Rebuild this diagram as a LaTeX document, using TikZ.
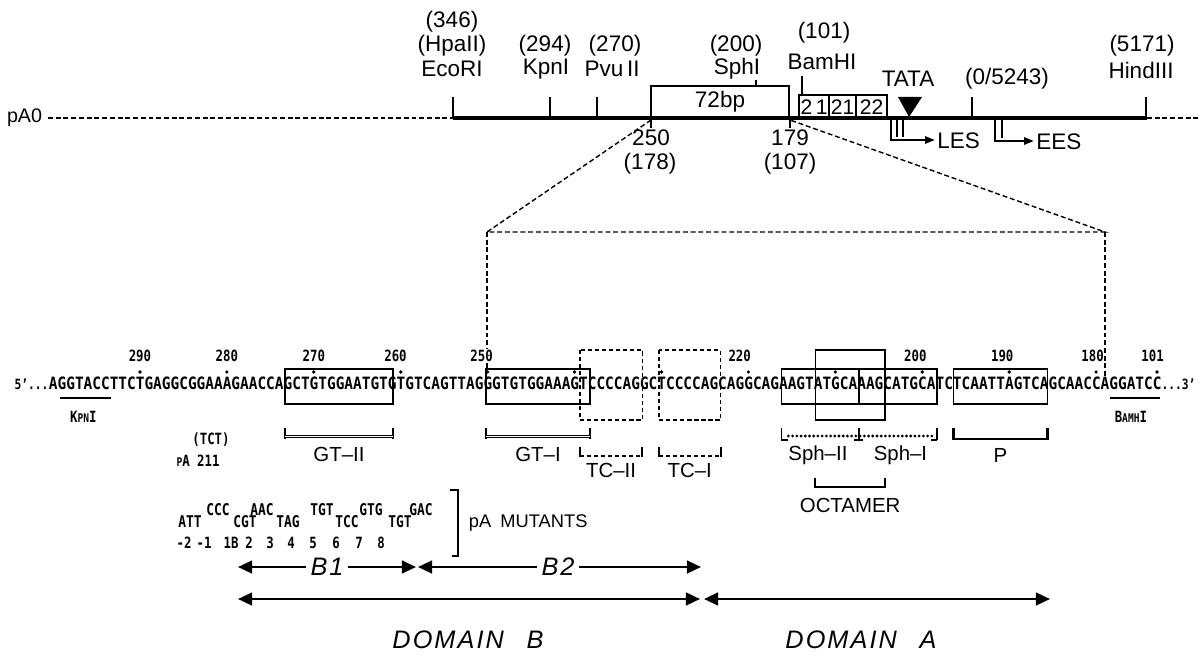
\documentclass[tikz,border=0pt]{standalone}
\usepackage{fontspec}
\setmainfont{Liberation Sans}
\newfontfamily\seqfont[FakeStretch=0.85]{DejaVu Sans Mono}
\newfontfamily\numfont[FakeStretch=0.8]{DejaVu Sans Mono}
\usetikzlibrary{arrows.meta,positioning}
\tikzset{
  every picture/.style={x=0.025cm, y=-0.025cm, font=\fontsize{16}{18}\selectfont},
  map label/.style={inner sep=0pt},
  map line/.style={line width=2.2pt},
  map tick/.style={line width=2pt},
  map box/.style={line width=1.5pt},
  map dash/.style={line width=1pt, dash pattern=on 3.5pt off 2pt},
  start arrow/.style={line width=1.6pt, -{Triangle[length=7pt,width=5pt]}},
  seq text/.style={font=\seqfont\bfseries\fontsize{12.08}{14}\selectfont, inner sep=0pt},
  seq end/.style={font=\numfont\bfseries\fontsize{10}{12}\selectfont, inner sep=0pt},
  seq num/.style={font=\numfont\bfseries\fontsize{11}{13}\selectfont, inner sep=1pt},
  site box/.style={line width=1.1pt},
  site dash/.style={line width=1.1pt, dash pattern=on 3pt off 2pt},
  brk/.style={line width=1.3pt},
  brk double/.style={double, line width=0.8pt, double distance=1.2pt},
  brk dots/.style={line width=2.2pt, line cap=round, dash pattern=on 0pt off 3pt},
  brk dash/.style={line width=1.6pt, dash pattern=on 3pt off 2pt},
  elem label/.style={font=\fontsize{14.5}{16}\selectfont},
  mut text/.style={font=\numfont\bfseries\fontsize{11.5}{12}\selectfont, inner sep=0pt},
  dom arrow/.style={line width=1.8pt,
    {Triangle[length=10pt,width=9pt]}-{Triangle[length=10pt,width=9pt]}},
  dom label/.style={font=\itshape\fontsize{18}{20}\selectfont\addfontfeature{LetterSpace=8}}
}
\begin{document}
\begin{tikzpicture}
  \useasboundingbox (0,0) rectangle (1200,668);

  % restriction map of pA0
  \node[anchor=east, font=\fontsize{14}{16}\selectfont] (pA0) at (47,118) {pA0};
  \draw[map dash] (48,118) -- (453,118);
  \draw[map dash] (1147,118) -- (1200,118);
  \draw[map line] (453,118) -- (1147,118);
  \foreach \x in {453,550,597,972,1146}
    \draw[map tick] (\x,97) -- (\x,118);
  \draw[map box] (651,86) rectangle (789,118);
  \draw[map tick] (756,80) -- (756,86);
  \draw[map box] (799,95) rectangle (887,118);
  \draw[map box] (829,95) -- (829,118) (856,95) -- (856,118);
  \draw[map tick] (802,76) -- (802,95);
  \draw[map tick] (651,118) -- (651,128) (790,118) -- (790,128);
  \fill (898,97) -- (922,97) -- (909,117) -- cycle;
  \draw[start arrow] (891,118) |- (935,140);
  \draw[line width=1.2pt] (897,118) -- (897,137) (903,118) -- (903,137);
  \draw[start arrow] (995,118) |- (1034,141);
  \draw[line width=1.2pt] (1002,118) -- (1002,138);

  \node[map label] (ecoPos) at (452,22) {(346)};
  \node[map label] (ecoAlt) at (452,46) {(HpaII)};
  \node[map label] (eco) at (452,69) {EcoRI};
  \node[map label] (kpnPos) at (545,46) {(294)};
  \node[map label] (kpn) at (546,69) {KpnI};
  \node[map label] (pvuPos) at (615,46) {(270)};
  \node[map label] (pvu) at (612,69) {Pvu\,II};
  \node[map label] (sphPos) at (736,46) {(200)};
  \node[map label] (sph) at (737,69) {SphI};
  \node[map label] (bamPos) at (824,33) {(101)};
  \node[map label] (bam) at (822,62) {BamHI};
  \node[map label] (tata) at (908,79) {TATA};
  \node[map label] (ori) at (1007,79) {(0/5243)};
  \node[map label] (hindPos) at (1142,46) {(5171)};
  \node[map label] (hind) at (1141,70) {HindIII};
  \node[map label] (bp72) at (720,102) {72bp};
  \node[map label, font=\fontsize{15}{17}\selectfont] (rep1) at (814,107.5) {2\,1};
  \node[map label, font=\fontsize{15}{17}\selectfont] (rep2) at (842.5,107.5) {21};
  \node[map label, font=\fontsize{15}{17}\selectfont] (rep3) at (871.5,107.5) {22};
  \node[map label] (p250) at (651,138) {250};
  \node[map label] (p178) at (650,164) {(178)};
  \node[map label] (p179) at (790,138) {179};
  \node[map label] (p107) at (790,164) {(107)};
  \node[map label, anchor=west] (les) at (937,141) {LES};
  \node[map label, anchor=west] (ees) at (1036,142) {EES};

  % expansion of the 250-179 region
  \coordinate (z250) at (651,120);
  \coordinate (z179) at (790,120);
  \coordinate (zL) at (487,232);
  \coordinate (zR) at (1105,232);
  \coordinate (zLb) at (487,368);
  \coordinate (zRb) at (1105,376);
  \draw[map dash] (z250) -- (zL) -- (zR) -- (z179);
  \draw[map dash] (zL) -- (zLb);
  \draw[map dash] (zR) -- (zRb);

  % sequence, x counted in nucleotides
  \begin{scope}[shift={(53,0)}, x=0.21725cm]
    \node[seq text, anchor=base west] (seq) at (-0.5,389)
      {AGGTACCTTCTGAGGCGGAAAGAACCAGCTGTGGAATGTGTGTCAGTTAGGGTGTGGAAAGTCCCCAGGCTCCCCAGCAGGCAGAAGTATGCAAAGCATGCATCTCAATTAGTCAGCAACCAGGATCC};
    \node[seq end, anchor=base east] (five) at (-0.5,389) {5’...};
    \node[seq end, anchor=base west] (three) at (127.5,389) {...3’};
    \foreach \i in {10,20,...,120,127}
      \fill (\i,372) circle (1.3pt);
    \foreach \i/\n in {10/290,20/280,30/270,39.4/260,79/220,99.2/200,109.2/190,119.6/180,126.5/101}
      \node[seq num] (pos\n) at (\i,356) {\n};
    \node[seq num, fill=white] (pos250) at (49.3,356) {250};

    \draw[line width=1.6pt] (0.8,398) -- (6.7,398);
    \draw[line width=1.6pt] (121.6,398) -- (127.3,398);
    \node[seq num] (kpnSite) at (3.5,417)
      {K{\fontsize{8.5}{9}\selectfont PN}I};
    \node[seq num] (bamSite) at (124,417)
      {B{\fontsize{8.5}{9}\selectfont AMH}I};

    % protected elements
    \draw[site box] (26.7,369) rectangle (39.1,404);
    \draw[site box] (49.8,369) rectangle (61.8,404);
    \draw[site dash] (60.6,350) rectangle (67.8,420);
    \draw[site dash] (69.7,350) rectangle (76.8,420);
    \draw[site box] (83.8,369) rectangle (101.7,404);
    \draw[site box] (92.7,369) -- (92.7,404);
    \draw[site box] (87.7,350) rectangle (95.7,420);
    \draw[site box] (103.6,369) rectangle (114.4,404);

    \foreach \a/\b in {26.7/39.1,49.8/61.8} {
      \draw[brk] (\a,428) -- (\a,439) (\b,428) -- (\b,439);
      \draw[brk double] (\a,436.5) -- (\b,436.5);
    }
    \foreach \a/\b in {60.6/67.8,69.7/76.8} {
      \draw[brk] (\a,447) -- (\a,457) (\b,447) -- (\b,457);
      \draw[brk dash] (\a,456) -- (\b,456);
    }
    \draw[brk] (83.8,428) -- (83.8,440) (92.7,428) -- (92.7,440) (101.7,428) -- (101.7,440);
    \draw[brk] (83.8,440) -- (84.5,440) (92.2,440) -- (93.2,440) (101,440) -- (101.7,440);
    \draw[brk dots] (84.6,436) -- (101.2,436);
    \draw[line width=2pt] (103.6,428) -- (103.6,439) -- (114.4,439) -- (114.4,428);
    \draw[line width=1.4pt] (87.7,478) -- (87.7,487) -- (95.7,487) -- (95.7,478);

    \node[elem label] (gt2) at (32.9,454) {GT--II};
    \node[elem label] (gt1) at (55.8,454) {GT--I};
    \node[elem label] (tc2) at (64.2,470) {TC--II};
    \node[elem label] (tc1) at (73.25,470) {TC--I};
    \node[elem label] (sph2) at (88,455) {Sph--II};
    \node[elem label] (sph1) at (97.5,455) {Sph--I};
    \node[elem label] (pel) at (109,455) {P};
    \node[elem label] (oct) at (91.7,505) {OCTAMER};
  \end{scope}

  % pA mutants
  \node[seq num] (tct) at (211,440) {(TCT)};
  \node[seq num] (pa211) at (198,461) {{\fontsize{8.5}{9}\selectfont P}A 211};
  \foreach \x/\t [count=\k] in {218/CCC,262/AAC,322/TGT,371/GTG,421/GAC}
    \node[mut text] (mutUp\k) at (\x,510) {\t};
  \foreach \x/\t [count=\k] in {190/ATT,245/CGT,288/TAG,347/TCC,400/TGT}
    \node[mut text] (mutLo\k) at (\x,522) {\t};
  \foreach \x/\t [count=\k] in {184/-2,204/-1,231/1B,249/2,270/3,291/4,313/5,336/6,359/7,381/8}
    \node[seq num] (mutNo\k) at (\x,543) {\t};
  \draw[line width=1.5pt] (450,490) -- (458,490) -- (458,556) -- (452,556);
  \node[anchor=west, font=\fontsize{13}{15}\selectfont] (mutants) at (464,523) {pA\enspace MUTANTS};

  % domains
  \coordinate (b1L) at (238,567);
  \coordinate (b1R) at (416,567);
  \coordinate (b2L) at (418,567);
  \coordinate (b2R) at (701,567);
  \coordinate (dBL) at (238,599);
  \coordinate (dBR) at (700,599);
  \coordinate (dAL) at (704,599);
  \coordinate (dAR) at (1050,599);
  \draw[dom arrow] (b1L) -- (b1R);
  \draw[dom arrow] (b2L) -- (b2R);
  \draw[dom arrow] (dBL) -- (dBR);
  \draw[dom arrow] (dAL) -- (dAR);
  \node[dom label, fill=white, inner sep=3pt] (b1) at (327,567) {B1};
  \node[dom label, fill=white, inner sep=3pt] (b2) at (558,567) {B2};
  \node[dom label] (domB) at (468,640) {DOMAIN\hspace{0.9em}B};
  \node[dom label] (domA) at (861,640) {DOMAIN\hspace{0.9em}A};
\end{tikzpicture}
\end{document}
